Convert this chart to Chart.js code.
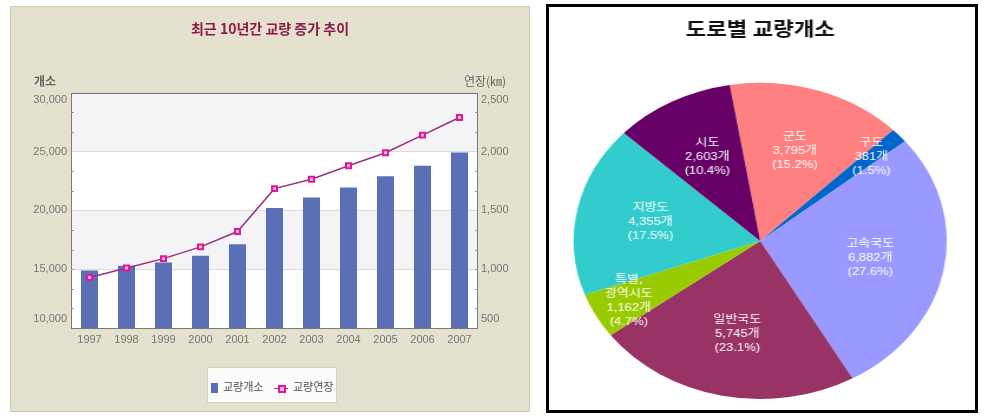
<!DOCTYPE html>
<html>
<head>
<meta charset="utf-8">
<script src="https://cdn.jsdelivr.net/npm/chart.js@4.4.1/dist/chart.umd.min.js"></script>
<style>
  body { margin: 0; background: #fff; width: 985px; height: 418px; position: relative; overflow: hidden;
         font-family: "Liberation Sans", "Noto Sans CJK KR", sans-serif; }
  #left { position: absolute; left: 10px; top: 6px; width: 520px; height: 406px; background: #e5e1cf;
          box-shadow: inset 0 0 0 1px #cdc9b6; }
  #left canvas { position: absolute; left: 0; top: 0; }
  #legend { position: absolute; left: 197px; top: 361px; width: 130px; height: 36px; box-sizing: border-box;
            background: #fbfbfb; border: 1px solid #d6d3c6; font-size: 11px; color: #555;
            white-space: nowrap; font-family: "Noto Sans CJK KR", sans-serif; }
  #legend .sq { position: absolute; left: 3px; top: 15px; width: 7px; height: 10px; background: #5b6fb6; }
  #legend .t1 { position: absolute; left: 15px; top: 10px; line-height: 16px; }
  #legend .ln { position: absolute; left: 66px; top: 20px; width: 14px; height: 1px; background: #9a2f7e; }
  #legend .mk { position: absolute; left: 70px; top: 17px; width: 4px; height: 4px; border: 2px solid #e0199a; background: #f7b2e2; }
  #legend .t2 { position: absolute; left: 85px; top: 10px; line-height: 16px; }
  #right { position: absolute; left: 546px; top: 4px; width: 432px; height: 409px; box-sizing: border-box;
           border: 3px solid #000; background: #fff; overflow: hidden; }
  #right canvas { position: absolute; left: 0; top: 0; transform: scaleX(1.18); transform-origin: 0 0; }
</style>
</head>
<body>
<div id="left">
  <canvas id="barChart" width="520" height="406"></canvas>
  <div id="legend">
    <span class="sq"></span><span class="t1">교량개소</span>
    <span class="ln"></span><span class="mk"></span><span class="t2">교량연장</span>
  </div>
</div>
<div id="right">
  <canvas id="pieChart" width="361" height="403"></canvas>
</div>
<script>
// 최근 10년간 교량 증가 추이
const years = ['1997', '1998', '1999', '2000', '2001', '2002', '2003', '2004', '2005', '2006', '2007'];
const bridgeCount = [14880, 15300, 15560, 16150, 17120, 20210, 21090, 21940, 22910, 23790, 24920];
const bridgeLength = [930, 1010, 1090, 1190, 1320, 1685, 1765, 1880, 1990, 2140, 2290];
const countTicks = [10000, 15000, 20000, 25000, 30000];
const lengthTicks = [500, 1000, 1500, 2000, 2500];

// 도로별 교량개소
const roadTypes = ['군도', '구도', '고속국도', '일반국도', ['특별,', '광역시도'], '지방도', '시도'];
const roadBridges = [3795, 381, 6882, 5745, 1162, 4355, 2603];
const roadColors = ['#ff8080', '#0066cc', '#9999ff', '#993366', '#99cc00', '#33cccc', '#660066'];

const kr = '"Noto Sans CJK KR", sans-serif';

const plotDeco = {
    id: 'plotDeco',
    beforeDraw(chart) {
        const { ctx, chartArea: a, scales: { y } } = chart;
        ctx.save();
        ctx.fillStyle = '#fff';
        ctx.fillRect(a.left, a.top, a.width, a.height);
        // light bands between every other major tick
        ctx.fillStyle = '#f4f4f6';
        for (let i = countTicks.length - 1; i > 0; i -= 2) {
            const y0 = y.getPixelForValue(countTicks[i]);
            const y1 = y.getPixelForValue(countTicks[i - 1]);
            ctx.fillRect(a.left, y0, a.width, y1 - y0);
        }
        ctx.restore();
    },
    afterDatasetsDraw(chart) {
        const { ctx, chartArea: a, scales: { y, y1 } } = chart;
        ctx.save();
        ctx.strokeStyle = '#7a7a7a';
        ctx.lineWidth = 1;
        ctx.strokeRect(Math.round(a.left) + 0.5, Math.round(a.top) + 0.5, Math.round(a.width) - 1, Math.round(a.height));
        // small minor ticks on both sides
        ctx.strokeStyle = '#999';
        const step = 5000 / 3;
        for (let v = countTicks[0]; v < countTicks[countTicks.length - 1]; v += step) {
            if (Math.abs(v % 5000) < 1) continue;
            const py = Math.round(y.getPixelForValue(v)) + 0.5;
            ctx.beginPath();
            ctx.moveTo(a.left, py); ctx.lineTo(a.left + 3, py);
            ctx.moveTo(a.right - 3, py); ctx.lineTo(a.right, py);
            ctx.stroke();
        }
        // tick labels, the end ones kept inside the plot height
        ctx.fillStyle = '#777';
        ctx.font = '11px "Liberation Sans", sans-serif';
        ctx.textBaseline = 'middle';
        const place = (scale, x, align) => {
            ctx.textAlign = align;
            scale.ticks.forEach(t => {
                const py = Math.min(Math.max(scale.getPixelForValue(t.value), a.top + 7), a.bottom - 9);
                ctx.fillText(t.value.toLocaleString('en-US'), x, py);
            });
        };
        place(y, a.left - 4, 'right');
        place(y1, a.right + 3, 'left');

        ctx.fillStyle = '#666';
        ctx.textAlign = 'center';
        ctx.font = 'bold 12px ' + kr;
        ctx.fillText('개소', a.left - 26, a.top - 11);
        ctx.font = '12px ' + kr;
        ctx.fillText('연장(㎞)', a.right + 7, a.top - 11);
        ctx.restore();
    }
};

new Chart(document.getElementById('barChart'), {
    data: {
        labels: years,
        datasets: [{
            type: 'line',
            label: '교량연장',
            data: bridgeLength,
            yAxisID: 'y1',
            order: 0,
            borderColor: '#9a2f7e',
            borderWidth: 1.5,
            pointStyle: 'rect',
            pointRadius: 3.5,
            pointBorderWidth: 2,
            pointBorderColor: '#e0199a',
            pointBackgroundColor: '#f7b2e2',
            tension: 0
        }, {
            type: 'bar',
            label: '교량개소',
            data: bridgeCount,
            yAxisID: 'y',
            order: 1,
            backgroundColor: '#5b6fb6',
            categoryPercentage: 1,
            barPercentage: 0.46
        }]
    },
    options: {
        responsive: false,
        animation: false,
        layout: { padding: 0 },
        plugins: {
            legend: { display: false },
            tooltip: { enabled: false },
            title: {
                display: true,
                text: '최근 10년간 교량 증가 추이',
                color: '#8b1a4b',
                font: { family: kr, size: 14, weight: 'bold' },
                padding: { top: 14, bottom: 56 }
            }
        },
        scales: {
            x: {
                grid: { display: false, drawTicks: false },
                border: { display: false },
                ticks: { color: '#777', font: { size: 11 }, padding: 5, maxRotation: 0 },
                afterFit: s => { s.height = 84; }
            },
            y: {
                position: 'left',
                min: 10000,
                max: 30000,
                afterBuildTicks: s => { s.ticks = countTicks.map(v => ({ value: v })); },
                grid: { color: '#dadada', drawTicks: false },
                border: { display: false },
                ticks: { display: false },
                afterFit: s => { s.width = 61; }
            },
            y1: {
                position: 'right',
                min: 500,
                max: 2500,
                afterBuildTicks: s => { s.ticks = lengthTicks.map(v => ({ value: v })); },
                grid: { display: false, drawTicks: false },
                border: { display: false },
                ticks: { display: false },
                afterFit: s => { s.width = 52; }
            }
        }
    },
    plugins: [plotDeco]
});

const sliceLabels = {
    id: 'sliceLabels',
    afterDatasetsDraw(chart) {
        const ctx = chart.ctx;
        const total = roadBridges.reduce((a, b) => a + b, 0);
        ctx.save();
        ctx.fillStyle = '#fff';
        ctx.font = '11px "Liberation Sans", ' + kr;
        ctx.textAlign = 'center';
        ctx.textBaseline = 'middle';
        chart.getDatasetMeta(0).data.forEach((arc, i) => {
            const share = roadBridges[i] / total * 100;
            const mid = (arc.startAngle + arc.endAngle) / 2;
            const r = arc.outerRadius * (share < 5 ? 0.8 : 0.6);
            const x = arc.x + Math.cos(mid) * r;
            const y = arc.y + Math.sin(mid) * r;
            const lines = [].concat(roadTypes[i],
                roadBridges[i].toLocaleString('en-US') + '개',
                '(' + share.toFixed(1) + '%)');
            lines.forEach((t, k) => ctx.fillText(t, x, y + (k - (lines.length - 1) / 2) * 14));
        });
        ctx.restore();
    }
};

new Chart(document.getElementById('pieChart'), {
    type: 'pie',
    data: {
        labels: roadTypes,
        datasets: [{
            data: roadBridges,
            backgroundColor: roadColors,
            borderWidth: 0
        }]
    },
    options: {
        responsive: false,
        animation: false,
        rotation: -9.4,
        layout: { padding: { right: 3, bottom: 11 } },
        plugins: {
            legend: { display: false },
            tooltip: { enabled: false },
            title: {
                display: true,
                text: '도로별 교량개소',
                color: '#111',
                font: { family: kr, size: 19, weight: 'bold' },
                padding: { top: 10, bottom: 43 }
            }
        }
    },
    plugins: [sliceLabels]
});
</script>
</body>
</html>
